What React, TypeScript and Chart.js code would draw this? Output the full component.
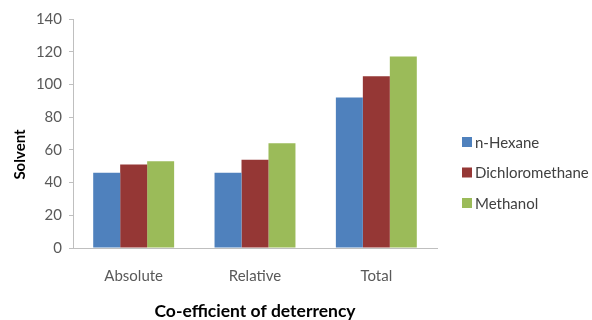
import React, { useEffect, useRef } from "react";
import { Chart, registerables } from "chart.js";

Chart.register(...registerables);

const categories = ["Absolute", "Relative", "Total"];
const seriesNames = ["n-Hexane", "Dichloromethane", "Methanol"];
const nHexane = [46, 46, 92];
const dichloromethane = [51, 54, 105];
const methanol = [53, 64, 117];
const seriesColors = ["#4F81BD", "#953735", "#9BBB59"];
const yTicks = { min: 0, max: 140, step: 20 };
const xTitle = "Co-efficient of deterrency";
const yTitle = "Solvent";

const FONT = "Lato, 'Open Sans', 'Liberation Sans', sans-serif";

const customPlugin = {
  id: "customDecor",
  afterDraw(chart: any) {
    const ctx = chart.ctx;
    const area = chart.chartArea;
    ctx.save();
    // Y axis title
    ctx.translate(20, (area.top + area.bottom) / 2 + 21);
    ctx.rotate(-Math.PI / 2);
    ctx.font = `bold 15px ${FONT}`;
    ctx.fillStyle = "#000000";
    ctx.textAlign = "center";
    ctx.textBaseline = "middle";
    ctx.fillText(yTitle, 0, 0);
    ctx.restore();

    // Legend
    ctx.save();
    ctx.font = `15px ${FONT}`;
    ctx.textAlign = "left";
    ctx.textBaseline = "middle";
    const lx = area.right + 25;
    const startY = 142;
    const rowH = 30.5;
    chart.data.datasets.forEach((ds: any, i: number) => {
      const cy = startY + i * rowH;
      ctx.fillStyle = ds.backgroundColor;
      ctx.fillRect(lx, cy - 5, 10, 10);
      ctx.fillStyle = "#404040";
      ctx.fillText(ds.label, lx + 13, cy + 1);
    });
    ctx.restore();
  },
};

export default function App() {
  const canvasRef = useRef<HTMLCanvasElement | null>(null);

  useEffect(() => {
    if (!canvasRef.current) return;
    const seriesData = [nHexane, dichloromethane, methanol];
    const chart = new Chart(canvasRef.current, {
      type: "bar",
      data: {
        labels: categories,
        datasets: seriesNames.map((name, i) => ({
          label: name,
          data: seriesData[i],
          backgroundColor: seriesColors[i],
          borderWidth: 0,
          categoryPercentage: 0.667,
          barPercentage: 1.0,
        })),
      },
      options: {
        animation: false,
        responsive: false,
        maintainAspectRatio: false,
        layout: { padding: { top: 19, right: 155, bottom: 0, left: 0 } },
        plugins: {
          legend: { display: false },
          tooltip: { enabled: false },
          title: { display: false },
        },
        scales: {
          x: {
            type: "category",
            offset: true,
            grid: { display: false, drawTicks: false },
            border: { display: true, color: "#BFBFBF", width: 1 },
            ticks: {
              color: "#595959",
              font: { family: FONT, size: 15 },
              padding: 19,
            },
            title: {
              display: true,
              text: xTitle,
              color: "#000000",
              font: { family: FONT, size: 17.5, weight: "bold", lineHeight: 1 },
              padding: { top: 0, bottom: 0 },
            },
            afterFit: (scale: any) => {
              scale.height = 72;
            },
          },
          y: {
            min: yTicks.min,
            max: yTicks.max,
            grid: {
              display: true,
              drawOnChartArea: false,
              drawTicks: true,
              tickLength: 4,
              color: "#BFBFBF",
            },
            border: { display: true, color: "#BFBFBF", width: 1 },
            ticks: {
              stepSize: yTicks.step,
              color: "#595959",
              font: { family: FONT, size: 15 },
              padding: 7,
            },
            afterFit: (scale: any) => {
              scale.width = 73;
            },
          },
        },
      },
      plugins: [customPlugin],
    });
    return () => chart.destroy();
  }, []);

  return (
    <div style={{ position: "fixed", left: 0, top: 0, width: 592, height: 320, background: "#FFFFFF" }}>
      <canvas ref={canvasRef} width={592} height={320} style={{ width: 592, height: 320 }} />
    </div>
  );
}
